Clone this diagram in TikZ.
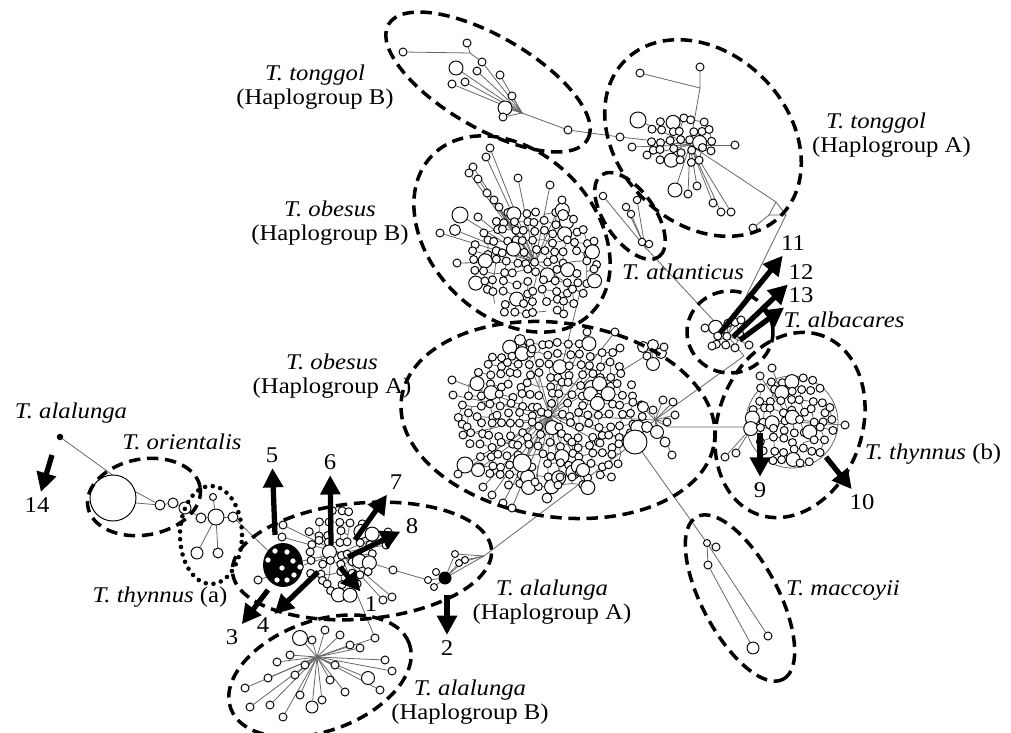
\documentclass[tikz,border=0pt]{standalone}
\usepackage{fontspec}
\setmainfont{Liberation Serif}[FakeStretch=1.1]
\usetikzlibrary{shapes.geometric, arrows.meta, positioning, calc}

\pgfdeclarelayer{links}
\pgfsetlayers{links,main}

\begin{document}
\begin{tikzpicture}[
    x=0.02cm, y=-0.02cm,
    font=\fontsize{12.8}{13.4}\selectfont,
    hap/.style={draw, fill=white, line width=0.55pt},
    hapn/.style={circle, draw, fill=white, inner sep=0pt, line width=0.55pt, minimum size=0.16cm},
    link/.style={black!60, line width=0.45pt},
    group/.style={ellipse, draw, line width=2pt, dash pattern=on 6.5pt off 3.8pt},
    dotgroup/.style={ellipse, draw, line width=2.6pt, line cap=round, dash pattern=on 0pt off 4.4pt},
    bigarrow/.style={-{Triangle[length=11pt, width=11pt]}, line width=3pt, shorten >=1pt},
    num/.style={inner sep=2pt},
    sp/.style={align=center, inner sep=1pt}
]
\useasboundingbox (0,0) rectangle (1011,733);
\pgfmathsetseed{4711}
\def\cores{oa/550/415/92/80, ob/535/262/64/58, tb/792/420/42/50,
           aa/340/553/40/42, ta/682/140/40/28, al/727/335/20/15}

% hubs of the networks
\coordinate (oaC) at (550,415);
\coordinate (oaR) at (655,420);
\coordinate (oaT) at (652,352);
\coordinate (oaE) at (668,427);
\coordinate (obC) at (535,262);
\coordinate (obS) at (580,292);
\coordinate (tbC) at (792,422);
\coordinate (tbW) at (752,427);
\coordinate (aaC) at (340,553);
\coordinate (taC) at (690,145);
\coordinate (alC) at (727,335);
\coordinate (abC) at (317,657);

% dense cores: links first, on the lower layer
\begin{pgfonlayer}{links}
\foreach \cl/\cx/\cy/\rx/\ry in \cores{
  \pgfmathtruncatemacro\nx{\rx/10}
  \pgfmathtruncatemacro\ny{\ry/10}
  \pgfmathtruncatemacro\mx{2*\nx}
  \pgfmathtruncatemacro\my{2*\ny}
  \foreach \u in {0,...,\mx}{
    \foreach \v in {0,...,\my}{
      \path ({\cx+10*(\u-\nx)+3*rand}, {\cy+10*(\v-\ny)+3*rand}) coordinate (\cl-\u-\v);
      \pgfmathtruncatemacro\inq{(10*(\u-\nx)/\rx)^2+(10*(\v-\ny)/\ry)^2<1}
      \ifnum\inq=1
        \pgfmathtruncatemacro\lft{and((10*(\u-\nx-1)/\rx)^2+(10*(\v-\ny)/\ry)^2<1, rnd<.65)}
        \pgfmathtruncatemacro\upp{and((10*(\u-\nx)/\rx)^2+(10*(\v-\ny-1)/\ry)^2<1, rnd<.6)}
        \pgfmathtruncatemacro\ul{\u-1}
        \pgfmathtruncatemacro\vu{\v-1}
        \ifnum\lft=1 \draw[link] (\cl-\u-\v) -- (\cl-\ul-\v); \fi
        \ifnum\upp=1 \draw[link] (\cl-\u-\v) -- (\cl-\u-\vu); \fi
      \fi
    }
  }
}
\end{pgfonlayer}

% dense cores: haplotype circles
\foreach \cl/\cx/\cy/\rx/\ry in \cores{
  \pgfmathtruncatemacro\nx{\rx/10}
  \pgfmathtruncatemacro\ny{\ry/10}
  \pgfmathtruncatemacro\mx{2*\nx}
  \pgfmathtruncatemacro\my{2*\ny}
  \foreach \u in {0,...,\mx}{
    \foreach \v in {0,...,\my}{
      \pgfmathtruncatemacro\inq{and((10*(\u-\nx)/\rx)^2+(10*(\v-\ny)/\ry)^2<1, rnd>.06)}
      \pgfmathsetmacro\rad{rnd<.1 ? 7 : 4}
      \ifnum\inq=1 \draw[hap] (\cl-\u-\v) circle[radius=\rad]; \fi
    }
  }
}

% T. obesus (A): outer haplotypes
\node[hapn, minimum size=.48cm] (oaBig) at (635,442) {};
\foreach \n/\x/\y/\s in {1/643/407/.22, 2/653/410/.16, 3/663/400/.16, 4/673/402/.16,
    5/675/415/.16, 6/647/427/.22, 7/657/432/.26, 8/667/422/.16, 9/665/442/.2,
    10/672/455/.16, 11/643/347/.22, 12/653/345/.22, 13/647/356/.16, 14/661/353/.22,
    15/653/364/.26, 16/664/347/.16, 17/452/380/.16, 18/453/395/.16, 19/463/435/.16,
    20/465/465/.32, 21/458/474/.16, 22/478/470/.26, 23/483/487/.16, 24/492/495/.16,
    25/503/503/.16, 26/512/508/.16, 27/522/463/.36, 28/520/340/.22, 29/532/349/.16,
    30/587/332/.16, 31/615/332/.16, 32/620/348/.16, 33/535/482/.16, 34/547/498/.2,
    35/560/477/.16, 36/572/477/.16, 37/583/470/.26, 38/600/443/.16}
  \node[hapn, minimum size=\s cm] (oax\n) at (\x,\y) {};

% T. obesus (B): outer haplotypes
\foreach \n/\x/\y/\s in {1/440/233/.16, 2/455/230/.22, 3/460/215/.32, 4/457/263/.16, 5/478/217/.16,
    6/518/178/.16, 7/550/185/.16, 8/562/200/.16, 9/563/215/.22, 10/490/148/.16, 11/486/157/.16,
    12/473/167/.16, 13/469/173/.16, 14/478/179/.16, 15/487/193/.16, 16/494/200/.16, 17/499/207/.16}
  \node[hapn, minimum size=\s cm] (obx\n) at (\x,\y) {};

% T. tonggol (B)
\foreach \n/\x/\y/\s in {1/403/52/.16, 2/467/43/.16, 3/482/62/.16, 4/477/71/.16, 5/456/68/.28,
    6/452/84/.16, 7/465/82/.16, 8/500/75/.16, 9/512/96/.16, 10/505/108/.28, 11/503/117/.16, 12/568/130/.16}
  \node[hapn, minimum size=\s cm] (tgb\n) at (\x,\y) {};
\coordinate (tgbJ1) at (470,53);
\coordinate (tgbJ2) at (522,113);

% T. tonggol (A)
\foreach \n/\x/\y/\s in {1/640/73/.16, 2/700/67/.16, 3/638/120/.32, 4/620/137/.16, 5/632/147/.16,
    6/647/155/.16, 7/735/145/.16, 8/675/190/.28, 9/688/194/.16, 10/697/186/.16, 11/713/203/.16,
    12/721/212/.16, 13/731/212/.16, 14/753/228/.16}
  \node[hapn, minimum size=\s cm] (tga\n) at (\x,\y) {};
\coordinate (tgaJ) at (700,88);
\coordinate (tgaT) at (776,202);
\coordinate (tgaT1) at (786,215);
\coordinate (tgaT2) at (769,215);

% T. atlanticus
\foreach \n/\x/\y in {1/603/196, 2/626/207, 3/631/214, 4/637/200, 5/642/242, 6/649/244}
  \node[hapn, minimum size=.15cm] (at\n) at (\x,\y) {};
\coordinate (atJ) at (645,247);

% T. albacares and T. thynnus (b)
\foreach \n/\x/\y in {1/705/328, 2/712/346, 3/741/320, 4/749/345,
    5/845/425, 6/725/457, 7/736/453, 8/772/368, 9/760/376}
  \node[hapn, minimum size=.16cm] (alx\n) at (\x,\y) {};
\coordinate (alT) at (744,356);

% T. maccoyii
\foreach \n/\x/\y/\s in {1/707/543/.14, 2/716/547/.16, 3/708/565/.16, 4/768/636/.16, 5/753/648/.24}
  \node[hapn, minimum size=\s cm] (mc\n) at (\x,\y) {};

% T. orientalis, T. thynnus (a) and the lone T. alalunga
\node[hapn, minimum size=.92cm] (or1) at (113,498) {};
\foreach \n/\x/\y/\s in {2/160/505/.2, 3/173/503/.2, 4/185/508/.24}
  \node[hapn, minimum size=\s cm] (or\n) at (\x,\y) {};
\coordinate (orJ1) at (136,492);
\coordinate (orJ2) at (136,503);
\node[circle, fill=black, inner sep=0pt, minimum size=.13cm] (aluDot) at (60,437) {};
\foreach \n/\x/\y/\s in {1/216/517/.32, 2/213/497/.14, 3/201/518/.2, 4/233/517/.2, 5/197/553/.24, 6/218/553/.2}
  \node[hapn, minimum size=\s cm] (th\n) at (\x,\y) {};
\node[ellipse, fill=black, inner sep=0pt, minimum width=.8cm, minimum height=.88cm] (blob) at (283,565) {};
\foreach \x/\y in {268/560, 277/580, 287/580, 294/575, 300/567, 282/568, 293/561, 275/551, 287/552}
  \draw[hap] (\x,\y) circle[radius=3.3];

% T. alalunga (A) outer part
\foreach \n/\x/\y in {1/283/525, 2/282/537, 3/258/580, 4/383/600,
    5/392/597, 6/388/532, 7/386/545, 8/393/570, 9/375/638}
  \node[hapn] (aax\n) at (\x,\y) {};
\node[circle, fill=black, inner sep=0pt, minimum size=.26cm] (aaDot) at (445,578) {};
\foreach \n/\x/\y in {1/428/580, 2/434/587, 3/436/572, 4/455/554, 5/459/563, 6/465/560}
  \node[hapn, minimum size=.14cm] (aad\n) at (\x,\y) {};
\coordinate (aaT) at (484,556);

% T. alalunga (B)
\foreach \n/\x/\y/\s in {1/245/688/.16, 2/250/707/.16, 3/268/678/.16, 4/270/705/.16, 5/283/717/.16,
    6/312/707/.24, 7/300/695/.16, 8/277/662/.16, 9/290/655/.16, 10/300/638/.3, 11/312/640/.16,
    12/325/630/.16, 13/340/635/.16, 14/350/645/.16, 15/360/648/.16, 16/385/660/.16, 17/392/671/.16,
    18/368/678/.26, 19/380/690/.16, 20/330/680/.16, 21/345/692/.16, 22/295/675/.16, 23/335/665/.16,
    24/305/665/.16, 25/322/700/.16}
  \node[hapn, minimum size=\s cm] (ab\n) at (\x,\y) {};

% connectors
\begin{pgfonlayer}{links}
  \foreach \n in {1,...,10} \draw[link] (oax\n) -- (oaR);
  \foreach \n in {11,...,16} \draw[link] (oax\n) -- (oaT);
  \foreach \n in {17,...,38} \draw[link] (oax\n) -- (oaC);
  \foreach \n in {1,...,17} \draw[link] (obx\n) -- (obC);
  \foreach \n in {1,...,4} \draw[link] (alx\n) -- (alC);
  \foreach \n/\h in {5/tbC, 6/tbW, 7/tbW, 8/tbC, 9/tbC} \draw[link] (alx\n) -- (\h);
  \foreach \n in {1,...,9} \draw[link] (aax\n) -- (aaC);
  \foreach \n in {1,...,25} \draw[link] (ab\n) -- (abC);
  \draw[link] (tgb1) -- (tgbJ1) -- (tgb2);
  \draw[link] (tgbJ1) -- (tgb3) -- (tgbJ2) -- (tgb12) -- (tga4);
  \foreach \n in {4,...,11} \draw[link] (tgb\n) -- (tgbJ2);
  \draw[link] (tga1) -- (tgaJ) -- (tga2);
  \draw[link] (tgaJ) -- (taC);
  \foreach \n in {3,...,13} \draw[link] (tga\n) -- (taC);
  \draw[link] (taC) -- (tgaT) -- (tgaT1) -- (tgaT2) -- (tgaT);
  \draw[link] (tga14) -- (tgaT2);
  \draw[link] (tgaT1) -- (alC);
  \draw[link] (at1) -- (atJ) -- (at5);
  \draw[link] (at4) -- (atJ) -- (at2);
  \draw[link] (at3) -- (atJ) -- (at6);
  \draw[link] (atJ) -- (alC) -- (alT);
  \draw[link] (obC) -- (obS) -- (oaC);
  \draw[link] (oaC) -- (oaR) -- (oaE) -- (tbW) -- (tbC);
  \draw[link] (oaC) -- (oaT);
  \draw[link] (oaR) -- (alT);
  \draw[link] (oaC) -- (oaBig) -- (mc1);
  \draw[link] (mc1) -- (mc4);
  \draw[link] (mc1) -- (mc3) -- (mc5);
  \draw[link] (mc1) -- (mc2);
  \draw[link] (aluDot) -- (orJ1);
  \draw[link] (orJ1) -- (or2) -- (orJ2);
  \draw[link] (or2) -- (or3) -- (or4) -- (th3);
  \foreach \n in {2,...,6} \draw[link] (th1) -- (th\n);
  \draw[link] (th4) -- (blob) -- (aaC);
  \draw[link] (aax8) -- (aad1) -- (aaDot);
  \foreach \n in {2,...,6} \draw[link] (aaDot) -- (aad\n);
  \draw[link] (aaDot) -- (aaT);
  \foreach \n in {4,...,6} \draw[link] (aad\n) -- (aaT);
  \draw[link] (aaT) -- (oaBig);
  \draw[link] (aax9) -- (abC);
  \draw[link] (tbC) circle[radius=46];
\end{pgfonlayer}

% haplogroup outlines
\node[group, minimum width=4.6cm, minimum height=1.84cm, rotate=-30] (tgBbox) at (488,82) {};
\node[group, minimum width=4.4cm, minimum height=3.4cm, rotate=-45] (tgAbox) at (703,138) {};
\node[group, minimum width=4.48cm, minimum height=3.28cm, rotate=-45] (obBbox) at (512,234) {};
\node[group, minimum width=2.0cm, minimum height=1.0cm, rotate=-55] (atbox) at (630,216) {};
\node[group, minimum width=1.72cm, minimum height=1.64cm] (albbox) at (730,332) {};
\node[group, minimum width=6.32cm, minimum height=3.88cm, rotate=-8] (obAbox) at (558,420) {};
\node[group, minimum width=3.8cm, minimum height=2.88cm, rotate=70] (tbbox) at (790,425) {};
\node[group, minimum width=3.68cm, minimum height=1.52cm, rotate=-62] (mcbox) at (740,598) {};
\node[group, minimum width=5.2cm, minimum height=2.32cm, rotate=5] (aaAbox) at (362,561) {};
\node[group, minimum width=3.8cm, minimum height=2.2cm, rotate=20] (aaBbox) at (320,676) {};
\node[group, minimum width=2.28cm, minimum height=1.52cm, rotate=10] (orbox) at (144,497) {};
\node[dotgroup, minimum width=1.24cm, minimum height=1.96cm] (thabox) at (211,535) {};

% species labels
\node[sp] (tgBlab) at (315,87) {\textit{T. tonggol}\\(Haplogroup B)};
\node[sp, align=left, anchor=west] (tgAlab) at (810,135) {\hspace*{.28cm}\textit{T. tonggol}\\(Haplogroup A)};
\node[sp] (obBlab) at (330,223) {\textit{T. obesus}\\(Haplogroup B)};
\node (atlab) at (683,272) {\textit{T. atlanticus}};
\node (alblab) at (844,320) {\textit{T. albacares}};
\node[sp] (obAlab) at (332,376) {\textit{T. obesus}\\(Haplogroup A)};
\node (alulab) at (71,413) {\textit{T. alalunga}};
\node (orlab) at (182,442) {\textit{T. orientalis}};
\node (thalab) at (160,597) {\textit{T. thynnus} (a)};
\node[sp] (aaAlab) at (552,602) {\textit{T. alalunga}\\(Haplogroup A)};
\node[sp] (aaBlab) at (470,702) {\textit{T. alalunga}\\(Haplogroup B)};
\node (thblab) at (933,454) {\textit{T. thynnus} (b)};
\node (mclab) at (843,590) {\textit{T. maccoyii}};

% numbered arrows
\foreach \n/\sx/\sy/\lx/\ly in {1/340/567/371/604, 2/447/595/447/648, 3/268/590/232/637,
    4/318/572/263/625, 5/275/535/272/455, 6/331/545/330/462, 7/355/540/396/482, 8/348/557/412/526,
    9/760/433/760/490, 10/826/457/862/502, 11/720/333/793/243, 12/733/337/801/272,
    13/740/340/801/295, 14/52/455/37/505}{
  \coordinate (s\n) at (\sx,\sy);
  \node[num] (n\n) at (\lx,\ly) {\n};
  \draw[bigarrow] (s\n) -- (n\n);
}

\end{tikzpicture}
\end{document}
